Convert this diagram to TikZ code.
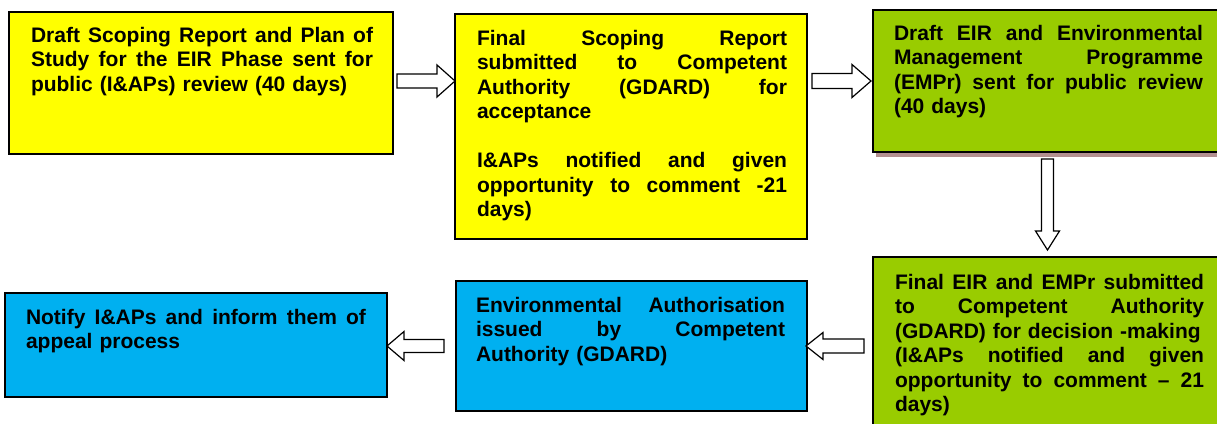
\documentclass[tikz,border=0pt]{standalone}
\usepackage{fontspec}
\setmainfont{Liberation Sans}
\usetikzlibrary{calc,shadows}
\definecolor{boxyellow}{HTML}{FFFF00}
\definecolor{boxgreen}{HTML}{99CC00}
\definecolor{boxblue}{HTML}{00B0F0}
\definecolor{shadowbrown}{HTML}{B39090}
\newcommand\jline[1]{\makebox[\linewidth][s]{\spaceskip=0.278em plus 1fil\relax\xspaceskip=\spaceskip #1}}
\newcommand\blockarrow[5]{%
  \path #1 coordinate (bt) #2 coordinate (bh);
  \path ($(bh)!#5pt!(bt)$) coordinate (bm);
  \draw[flowarrow] ($(bt)!#3pt!90:(bh)$) -- ($(bm)!#3pt!90:(bh)$) -- ($(bm)!#4pt!90:(bh)$) -- (bh)
     -- ($(bm)!#4pt!-90:(bh)$) -- ($(bm)!#3pt!-90:(bh)$) -- ($(bt)!#3pt!-90:(bh)$) -- cycle;}
\begin{document}
\begin{tikzpicture}[x=1pt,y=-1pt,
  box/.style={draw=black, line width=1.6pt, anchor=north west, inner sep=0pt, outer sep=0pt},
  txt/.style={anchor=north west, inner sep=0pt, outer sep=0pt, align=left,
     font=\bfseries\fontsize{21}{24.5}\selectfont,
     execute at begin node={\rule{0pt}{15pt}}},
  flowarrow/.style={draw=black, line width=1.2pt, fill=white, line join=miter}]
\clip (0,0) rectangle (1217,423);
\fill[white] (0,0) rectangle (1217,423);
% boxes
\node[box, fill=boxyellow, minimum width=384pt, minimum height=142pt] (b1) at (9,12) {};
\node[box, fill=boxyellow, minimum width=352pt, minimum height=225pt] (b2) at (455,14) {};
\node[box, fill=boxgreen, minimum width=351pt, minimum height=142pt,
  drop shadow={shadow xshift=3pt, shadow yshift=-5pt, fill=shadowbrown, opacity=1, draw=none}] (b3) at (873,10) {};
\node[box, fill=boxgreen, minimum width=351pt, minimum height=183pt] (b4) at (873,257) {};
\node[box, fill=boxblue, minimum width=351pt, minimum height=130pt] (b5) at (456,281) {};
\node[box, fill=boxblue, minimum width=382pt, minimum height=104pt] (b6) at (5,293) {};
% texts
\node[txt, text width=342pt] (t1) at ($(b1.north west)+(22,15)$)
  {\jline{Draft Scoping Report and Plan of}\\\jline{Study for the EIR Phase sent for}\\public (I\&APs) review (40 days)};
\node[txt, text width=310pt] (t2) at ($(b2.north west)+(22,16)$)
  {\jline{Final Scoping Report}\\\jline{submitted to Competent}\\\jline{Authority (GDARD) for}\\acceptance\\[24.5pt]\jline{I\&APs notified and given}\\\jline{opportunity to comment -21}\\days)};
\node[txt, text width=309pt] (t3) at ($(b3.north west)+(21,15)$)
  {\jline{Draft EIR and Environmental}\\\jline{Management Programme}\\\jline{(EMPr) sent for public review}\\(40 days)};
\node[txt, text width=309pt] (t4) at ($(b4.north west)+(22,17)$)
  {\jline{Final EIR and EMPr submitted}\\\jline{to Competent Authority}\\(GDARD) for decision -making\\\jline{(I\&APs notified and given}\\\jline{opportunity to comment -- 21}\\days)};
\node[txt, text width=309pt] (t5) at ($(b5.north west)+(20,16)$)
  {\jline{Environmental Authorisation}\\\jline{issued by Competent}\\Authority (GDARD)};
\node[txt, text width=340pt] (t6) at ($(b6.north west)+(21,16)$)
  {\jline{Notify I\&APs and inform them of}\\appeal process};
% arrows
\blockarrow{($(b1.east)+(4,-2)$)}{($(b2.west |- b1.east)+(0,-2)$)}{7}{16}{18}
\blockarrow{($(b3.west -| b2.east)+(5,0)$)}{($(b3.west)+(-2,0)$)}{7.5}{16.5}{19}
\blockarrow{($(b3.south)+(-1,7)$)}{($(b4.north)+(-1,-7)$)}{6}{12}{19}
\blockarrow{($(b5.east -| b4.west)+(-9,0)$)}{($(b5.east)+(-1,0)$)}{7}{13.5}{17}
\blockarrow{($(b5.west)+(-12,0)$)}{(b5.west -| b6.east)}{6.5}{14.5}{17}
\end{tikzpicture}
\end{document}
